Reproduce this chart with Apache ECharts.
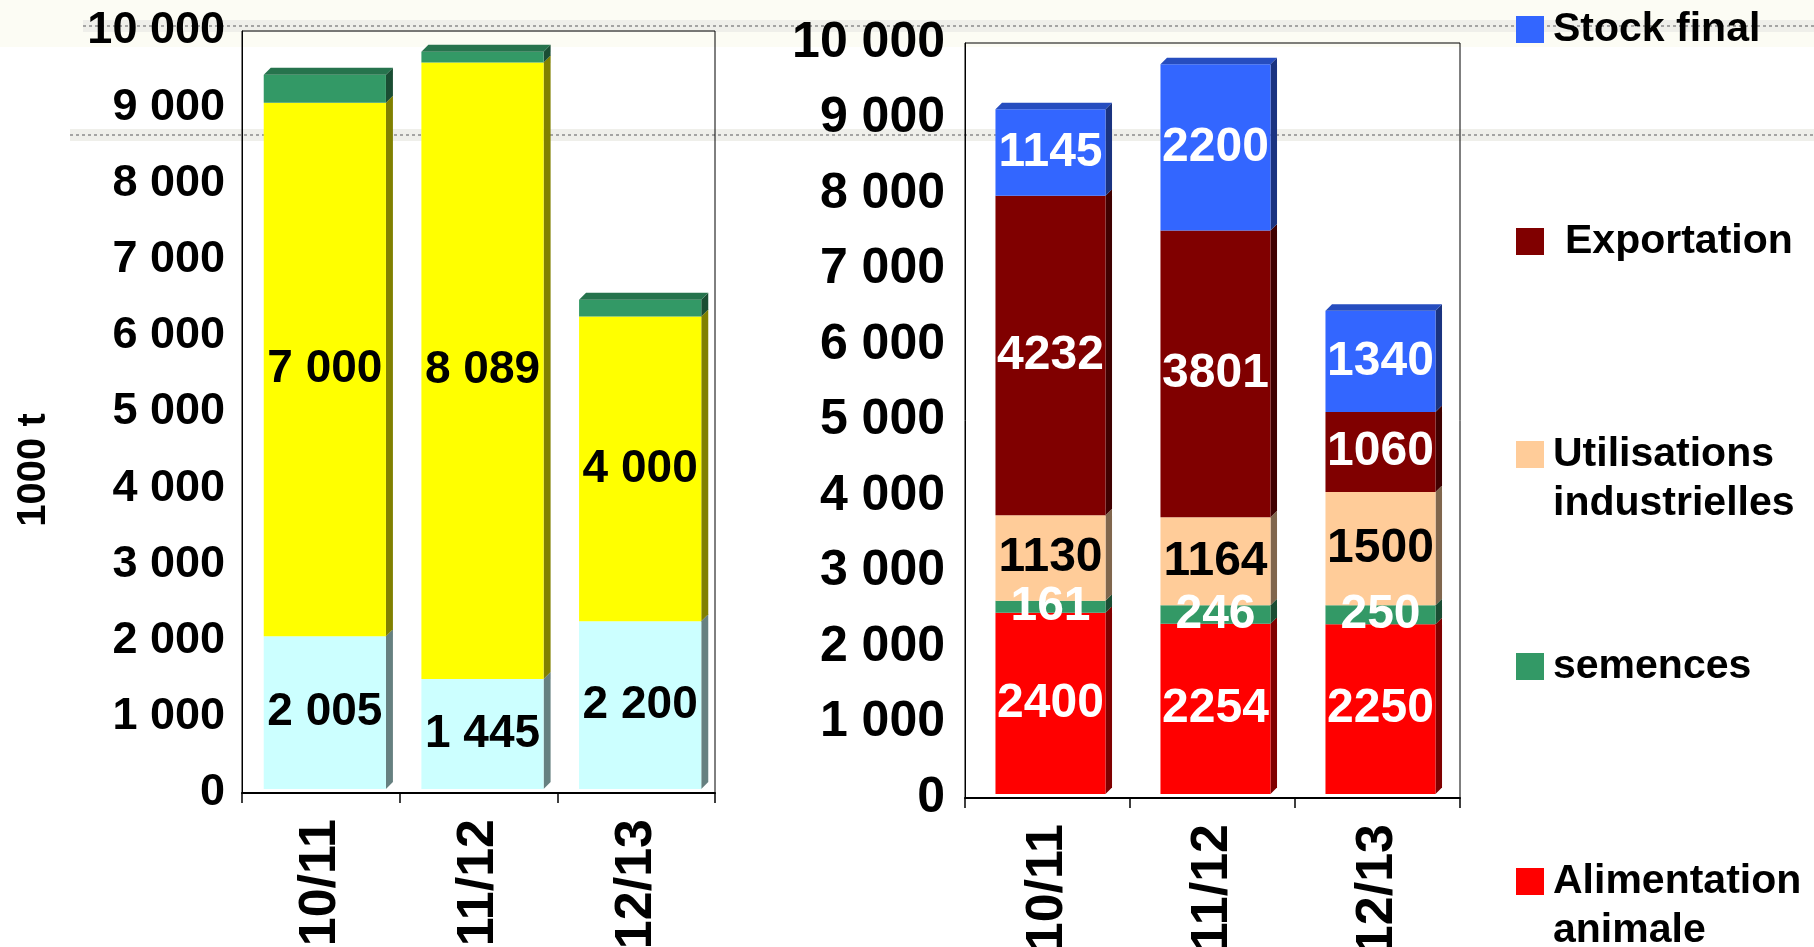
<!DOCTYPE html>
<html>
<head>
<meta charset="utf-8">
<script src="https://cdn.jsdelivr.net/npm/echarts@6/dist/echarts.min.js"></script>
<style>html,body{margin:0;padding:0;background:#fff}#c{width:1814px;height:947px}</style>
</head>
<body>
<div id="c"></div>
<script>
// ---------- data ----------
const categories = ['10/11', '11/12', '12/13'];
const yTicks = [0, 1000, 2000, 3000, 4000, 5000, 6000, 7000, 8000, 9000, 10000];
// left chart (ressources)
const stockInitial = [2005, 1445, 2200];
const production = [7000, 8089, 4000];
const importations = [370, 140, 220];
// right chart (utilisations)
const alimentationAnimale = [2400, 2254, 2250];
const semences = [161, 246, 250];
const utilisationsIndustrielles = [1130, 1164, 1500];
const exportation = [4232, 3801, 1060];
const stockFinal = [1145, 2200, 1340];
const legendNames = ['Stock final', 'Exportation', 'Utilisations industrielles', 'semences', 'Alimentation animale'];
const yAxisTitle = '1000 t';

// ---------- helpers ----------
const FONT = "'Liberation Sans', Arial, Helvetica, sans-serif";
const fmtSpace = v => String(Math.round(v)).replace(/\B(?=(\d{3})+(?!\d))/g, ' ');
const fmtPlain = v => String(Math.round(v));
function shade(hex, f) {
  const n = parseInt(hex.slice(1), 16);
  const r = Math.round(((n >> 16) & 255) * f), g = Math.round(((n >> 8) & 255) * f), b = Math.round((n & 255) * f);
  return 'rgb(' + r + ',' + g + ',' + b + ')';
}

function stackSeries(list, gi, geom) {
  const acc = categories.map(() => 0);
  return list.map((s, si) => {
    const data = s.values.map((v, i) => { const lo = acc[i]; acc[i] += v; return [i, lo, lo + v, v]; });
    const isTop = si === list.length - 1;
    const side = shade(s.color, 0.5), topc = shade(s.color, 0.75);
    return {
      type: 'custom', name: s.name, xAxisIndex: gi, yAxisIndex: gi,
      itemStyle: { color: s.color },
      encode: { x: 0, y: [1, 2] },
      clip: false,
      data: data,
      renderItem: function (params, api) {
        const cat = api.value(0), lo = api.value(1), hi = api.value(2), v = api.value(3);
        const p0 = api.coord([cat, lo]), p1 = api.coord([cat, hi]);
        const band = api.size([1, 0])[0];
        const w = band * geom.ratio;
        const xl = p0[0] - w / 2 + geom.dx, xr = xl + w;
        const yb = p0[1] + geom.dy, yt = p1[1] + geom.dy;
        const d = geom.depth;
        const children = [
          { type: 'polygon', shape: { points: [[xr, yb], [xr + d, yb - d], [xr + d, yt - d], [xr, yt]] }, style: { fill: side } },
          { type: 'rect', shape: { x: xl, y: yt, width: w, height: yb - yt }, style: { fill: s.color } }
        ];
        if (isTop) {
          children.push({ type: 'polygon', shape: { points: [[xl, yt], [xl + d, yt - d], [xr + d, yt - d], [xr, yt]] }, style: { fill: topc } });
        }
        if (s.labelColor) {
          children.push({
            type: 'text', z2: 100,
            style: {
              text: geom.fmt(v), x: (xl + xr) / 2, y: (yb + yt) / 2,
              align: 'center', verticalAlign: 'middle',
              fontFamily: FONT, fontWeight: 'bold', fontSize: geom.labelSize, fill: s.labelColor
            }
          });
        }
        return { type: 'group', children: children };
      }
    };
  });
}

const leftSeries = stackSeries([
  { name: 'Stock initial', values: stockInitial, color: '#CCFFFF', labelColor: '#000' },
  { name: 'Production', values: production, color: '#FFFF00', labelColor: '#000' },
  { name: 'Importations', values: importations, color: '#339966', labelColor: null }
], 0, { ratio: 0.775, dx: 4, dy: -4, depth: 7, labelSize: 46, fmt: fmtSpace });

const rightSeries = stackSeries([
  { name: 'Alimentation animale', values: alimentationAnimale, color: '#FF0000', labelColor: '#fff' },
  { name: 'semences', values: semences, color: '#339966', labelColor: '#fff' },
  { name: 'Utilisations industrielles', values: utilisationsIndustrielles, color: '#FFCC99', labelColor: '#000' },
  { name: 'Exportation', values: exportation, color: '#800000', labelColor: '#fff' },
  { name: 'Stock final', values: stockFinal, color: '#3366FF', labelColor: '#fff' }
], 1, { ratio: 0.667, dx: 3, dy: -4, depth: 6.5, labelSize: 48, fmt: fmtPlain });

function xAxisCfg(gi) {
  return {
    type: 'category', gridIndex: gi, data: categories,
    axisLine: { lineStyle: { color: '#000', width: 2 } },
    axisTick: { show: true, length: 10, lineStyle: { color: '#000', width: 1.5 } },
    axisLabel: { rotate: 90, margin: 26, color: '#000', fontFamily: FONT, fontWeight: 'bold', fontSize: 52 },
    splitLine: { show: false }
  };
}
function yAxisCfg(gi, size, margin) {
  return {
    type: 'value', gridIndex: gi, min: yTicks[0], max: yTicks[yTicks.length - 1], interval: yTicks[1] - yTicks[0],
    axisLine: { show: true, lineStyle: { color: '#000', width: 1 } },
    axisTick: { show: false },
    splitLine: { show: false },
    axisLabel: { margin: margin, color: '#000', fontFamily: FONT, fontWeight: 'bold', fontSize: size, formatter: fmtSpace }
  };
}

const legendTops = [5, 217, 381, 642, 808];
const legendTwoLine = [false, false, true, false, true];
const legendPadLeft = [4, 16, 4, 4, 4];
const legends = legendNames.map((n, i) => ({
  data: [n], left: 1516, top: legendTops[i], orient: 'vertical', icon: 'rect',
  itemWidth: 28, itemHeight: 27, padding: 0, selectedMode: false,
  formatter: legendTwoLine[i] ? (name => '\n' + name.replace(' ', '\n')) : (name => name),
  textStyle: {
    fontFamily: FONT, fontWeight: 'bold', fontSize: 41, color: '#000', lineHeight: 49,
    padding: [0, 0, 0, legendPadLeft[i]]
  }
}));

const chart = echarts.init(document.getElementById('c'), null, { renderer: 'canvas' });
chart.setOption({
  backgroundColor: '#ffffff',
  animation: false,
  graphic: [
    { type: 'rect', z: -10, shape: { x: 0, y: 0, width: 1814, height: 47 }, style: { fill: '#fcfcf4' } },
    { type: 'rect', z: -9, shape: { x: 83, y: 20, width: 1731, height: 12 }, style: { fill: '#efefea' } },
    { type: 'line', z: -8, shape: { x1: 83, y1: 26, x2: 1814, y2: 26 }, style: { stroke: '#8c8c8c', lineWidth: 1.5, lineDash: [3, 3] } },
    { type: 'rect', z: -9, shape: { x: 70, y: 129, width: 1744, height: 12 }, style: { fill: '#efefea' } },
    { type: 'line', z: -8, shape: { x1: 70, y1: 135, x2: 1814, y2: 135 }, style: { stroke: '#8c8c8c', lineWidth: 1.5, lineDash: [3, 3] } },
    { type: 'text', x: 34, y: 470, rotation: Math.PI / 2,
      style: { text: yAxisTitle, align: 'center', verticalAlign: 'middle', fontFamily: FONT, fontWeight: 'bold', fontSize: 40, fill: '#000' } }
  ],
  grid: [
    { left: 242, top: 31, width: 473, height: 762, outerBoundsMode: 'none', containLabel: false, show: true, borderColor: '#000', borderWidth: 1, backgroundColor: 'transparent' },
    { left: 965, top: 43, width: 495, height: 755, outerBoundsMode: 'none', containLabel: false, show: true, borderColor: '#000', borderWidth: 1, backgroundColor: 'transparent' }
  ],
  xAxis: [xAxisCfg(0), xAxisCfg(1)],
  yAxis: [yAxisCfg(0, 45, 17), yAxisCfg(1, 50, 20)],
  legend: legends,
  series: leftSeries.concat(rightSeries)
});
</script>
</body>
</html>
